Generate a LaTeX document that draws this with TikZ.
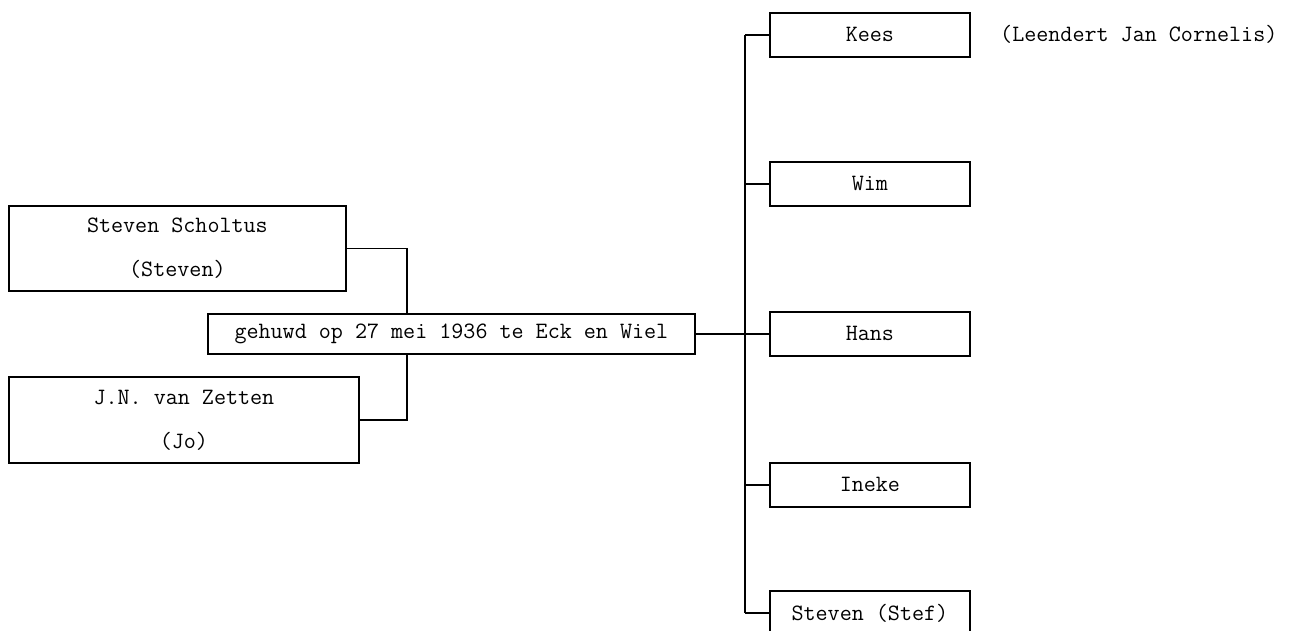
\documentclass[tikz,border=0pt]{standalone}
\begin{document}
\begin{tikzpicture}[x=1pt,y=-1pt,
  box/.style={draw, line width=1.8pt, inner sep=0pt, anchor=north west,
    font=\fontsize{23.4}{44}\ttfamily, align=center},
  kid/.style={box, minimum width=200pt, minimum height=44pt},
  link/.style={draw, line width=1.8pt}]
\useasboundingbox (0,0) rectangle (1297,630);
\clip (0,0) rectangle (1297,630);
\node[box, minimum width=337pt, minimum height=85pt] (p1) at (8,205) {Steven Scholtus\\(Steven)};
\node[box, minimum width=350pt, minimum height=86pt] (p2) at (8,376) {J.N. van Zetten\\(Jo)};
\node[box, minimum width=487pt, minimum height=40pt] (m) at (207,313) {gehuwd op 27 mei 1936 te Eck en Wiel};
\node[kid] (c1) at (769,12) {Kees};
\node[kid] (c2) at (769,161) {Wim};
\node[kid] (c3) at (769,311) {Hans};
\node[kid] (c4) at (769,462) {Ineke};
\node[kid] (c5) at (769,590) {Steven (Stef)};
\node[anchor=west, inner sep=0pt, font=\fontsize{23.4}{24}\ttfamily] (note) at (1000,34) {(Leendert Jan Cornelis)};
\coordinate (j) at (407,0);
\coordinate (bx) at (745,0);
\draw[link] (p1.east) -| (j |- m.north);
\draw[link] (p2.east) -| (j |- m.south);
\draw[link] (m.east) -- (c3.west);
\draw[link] (bx |- c1.west) -- (bx |- c5.west);
\foreach \c in {c1,c2,c3,c4,c5} \draw[link] (bx |- \c.west) -- (\c.west);
\end{tikzpicture}
\end{document}
